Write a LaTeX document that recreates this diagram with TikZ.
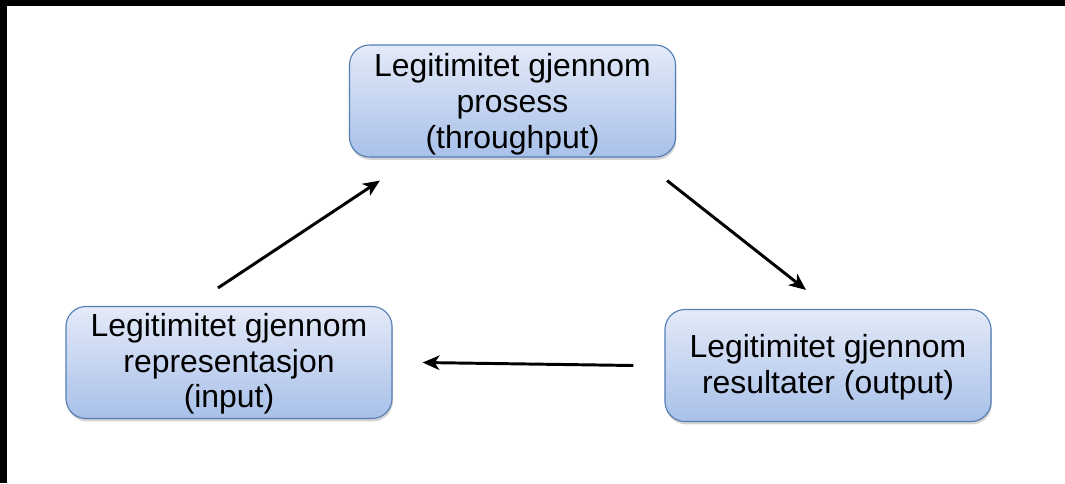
\documentclass[tikz,border=0pt]{standalone}
\usepackage{fontspec}
\setmainfont{Liberation Sans}
\usetikzlibrary{arrows.meta,shadows}
\definecolor{boxtop}{RGB}{228,234,248}
\definecolor{boxbot}{RGB}{168,192,233}
\definecolor{boxline}{RGB}{84,126,180}
\tikzset{
	legbox/.style={rectangle, rounded corners=0.5cm, draw=boxline, line width=0.8pt,
		top color=boxtop, bottom color=boxbot, minimum width=8.15cm, minimum height=2.8cm,
		align=center, font=\fontsize{22.7}{25.4}\selectfont,
		drop shadow={opacity=0.35, shadow xshift=0.6pt, shadow yshift=-2pt}},
	flow/.style={-{Stealth[length=0.42cm, width=0.36cm, inset=0.12cm]}, line width=2.1pt}
}
\begin{document}
\begin{tikzpicture}[x=0.025cm, y=-0.025cm]
		\useasboundingbox (0,0) rectangle (1065,483);
		\fill[black] (0,0) rectangle (1065,6);
		\fill[black] (0,0) rectangle (7,483);
		\node[legbox, text depth=-1pt] (thr) at (512.5,101) {Legitimitet gjennom\\prosess\\(throughput)};
		\node[legbox, text depth=2pt] (out) at (828,365.5) {Legitimitet gjennom\\resultater (output)};
		\node[legbox, text depth=2.7pt] (inp) at (229,362.5) {Legitimitet gjennom\\representasjon\\(input)};
		\draw[flow] ([shift={(-11,-18)}]inp.north) -- ([shift={(31,23)}]thr.south west);
		\draw[flow] ([shift={(-9,23)}]thr.south east) -- ([shift={(-22,-19)}]out.north);
		\draw[flow] ([shift={(-31,0)}]out.west) -- ([shift={(30,0)}]inp.east);
		\end{tikzpicture}
\end{document}
